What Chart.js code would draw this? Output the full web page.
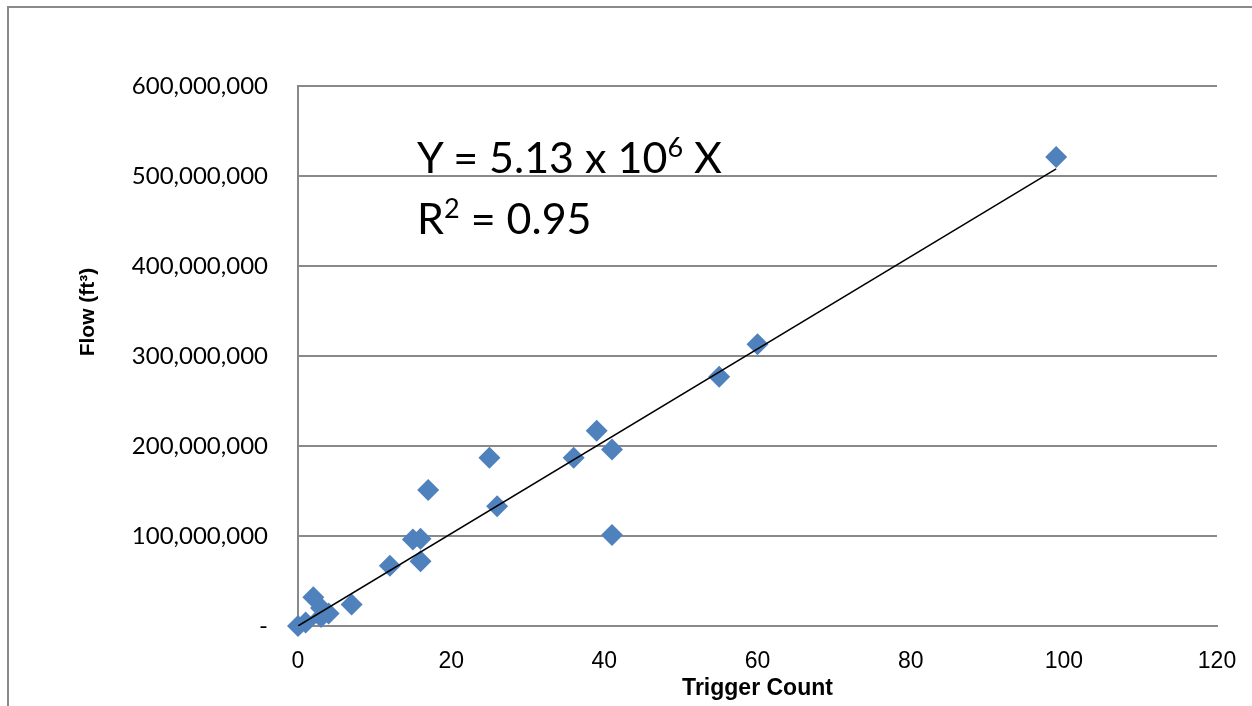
<!DOCTYPE html>
<html>
<head>
<meta charset="utf-8">
<script src="https://cdn.jsdelivr.net/npm/chart.js@4/dist/chart.umd.min.js"></script>
<style>
  html, body { margin: 0; padding: 0; background: #fff; }
  #wrap { position: relative; width: 1252px; height: 706px; overflow: hidden; }
  #frame { position: absolute; left: 7px; top: 6px; width: 1400px; height: 900px;
           border-left: 2px solid #8a8a8a; border-top: 2px solid #8a8a8a; pointer-events: none; }
  #eq { position: absolute; left: 417px; top: 126px; font-family: Lato, "Open Sans", sans-serif;
        font-size: 43px; color: #000; line-height: 61px; pointer-events: none; }
  #eq sup { font-size: 27px; vertical-align: 16px; line-height: 0; }
</style>
</head>
<body>
<div id="wrap">
  <canvas id="c" width="1252" height="706"></canvas>
  <div id="frame"></div>
  <div id="eq">Y = 5.13 x 10<sup>6</sup> X<br>R<sup>2</sup> = 0.95</div>
</div>
<script>
// Data
const triggerCount = [0, 1, 2, 3, 4, 3, 7, 12, 15, 16, 16, 17, 25, 26, 36, 39, 41, 41, 55, 60, 99];
const flowFt3 = [0, 4e6, 32e6, 20e6, 14e6, 10e6, 24e6, 67e6, 96e6, 97e6, 72e6, 151e6, 187e6, 133e6, 187e6, 217e6, 196e6, 101e6, 277e6, 313e6, 521e6];
const slope = 5.13e6;           // trendline Y = 5.13 x 10^6 X
const trendX = [0, 99];
const yTicks = [0, 100e6, 200e6, 300e6, 400e6, 500e6, 600e6];
const xTicks = [0, 20, 40, 60, 80, 100, 120];
const xTitle = 'Trigger Count';
const yTitle = 'Flow (ft³)';

const points = triggerCount.map((x, i) => ({ x: x, y: flowFt3[i] }));
const trend = trendX.map(x => ({ x: x, y: slope * x }));

const gridColor = '#898989';
const narrow = '"Liberation Sans Narrow", "Arial Narrow", "Liberation Sans", sans-serif';

// Y-axis title placed where the reference has it (above the axis centre)
const yTitlePlugin = {
  id: 'yTitle',
  afterDraw(chart) {
    const ctx = chart.ctx;
    ctx.save();
    ctx.translate(88, 312);
    ctx.rotate(-Math.PI / 2);
    ctx.font = 'bold 21px ' + narrow;
    ctx.fillStyle = '#000';
    ctx.textAlign = 'center';
    ctx.textBaseline = 'middle';
    ctx.fillText(yTitle, 0, 0);
    ctx.restore();
  }
};

new Chart(document.getElementById('c'), {
  type: 'scatter',
  data: {
    datasets: [
      {
        label: 'Trend',
        type: 'line',
        data: trend,
        borderColor: '#000',
        borderWidth: 1.5,
        pointRadius: 0,
        fill: false,
        order: 0
      },
      {
        label: 'Flow',
        data: points,
        pointStyle: 'rectRot',
        pointRadius: 11,
        pointHoverRadius: 11,
        backgroundColor: '#4f81bd',
        borderColor: '#4f81bd',
        borderWidth: 0,
        clip: false,
        order: 1
      }
    ]
  },
  plugins: [yTitlePlugin],
  options: {
    responsive: false,
    animation: false,
    events: [],
    layout: { padding: { left: 0, right: 35, top: 86, bottom: 0 } },
    plugins: { legend: { display: false }, tooltip: { enabled: false } },
    scales: {
      x: {
        type: 'linear',
        min: 0, max: 120,
        afterBuildTicks: s => { s.ticks = xTicks.map(v => ({ value: v })); },
        afterFit: s => { s.height = 80; s.paddingLeft = 0; s.paddingRight = 0; },
        grid: { display: false, drawTicks: false },
        border: { display: true, color: gridColor, width: 2 },
        ticks: {
          padding: 22,
          color: '#000',
          font: { family: narrow, size: 23 }
        },
        title: {
          display: true,
          text: xTitle,
          color: '#000',
          padding: { top: 0, bottom: 4 },
          font: { family: narrow, size: 23, weight: 'bold' }
        }
      },
      y: {
        type: 'linear',
        min: 0, max: 600e6,
        afterBuildTicks: s => { s.ticks = yTicks.map(v => ({ value: v })); },
        afterFit: s => { s.width = 298; s.paddingTop = 0; s.paddingBottom = 0; },
        grid: { color: gridColor, lineWidth: 2, drawTicks: false },
        border: { display: true, color: gridColor, width: 2 },
        ticks: {
          padding: 30,
          color: '#000',
          font: { family: 'Lato, "Open Sans", sans-serif', size: 24 },
          callback: v => v === 0 ? '-' : v.toLocaleString('en-US')
        },
        title: { display: false, text: yTitle }
      }
    }
  }
});
</script>
</body>
</html>
